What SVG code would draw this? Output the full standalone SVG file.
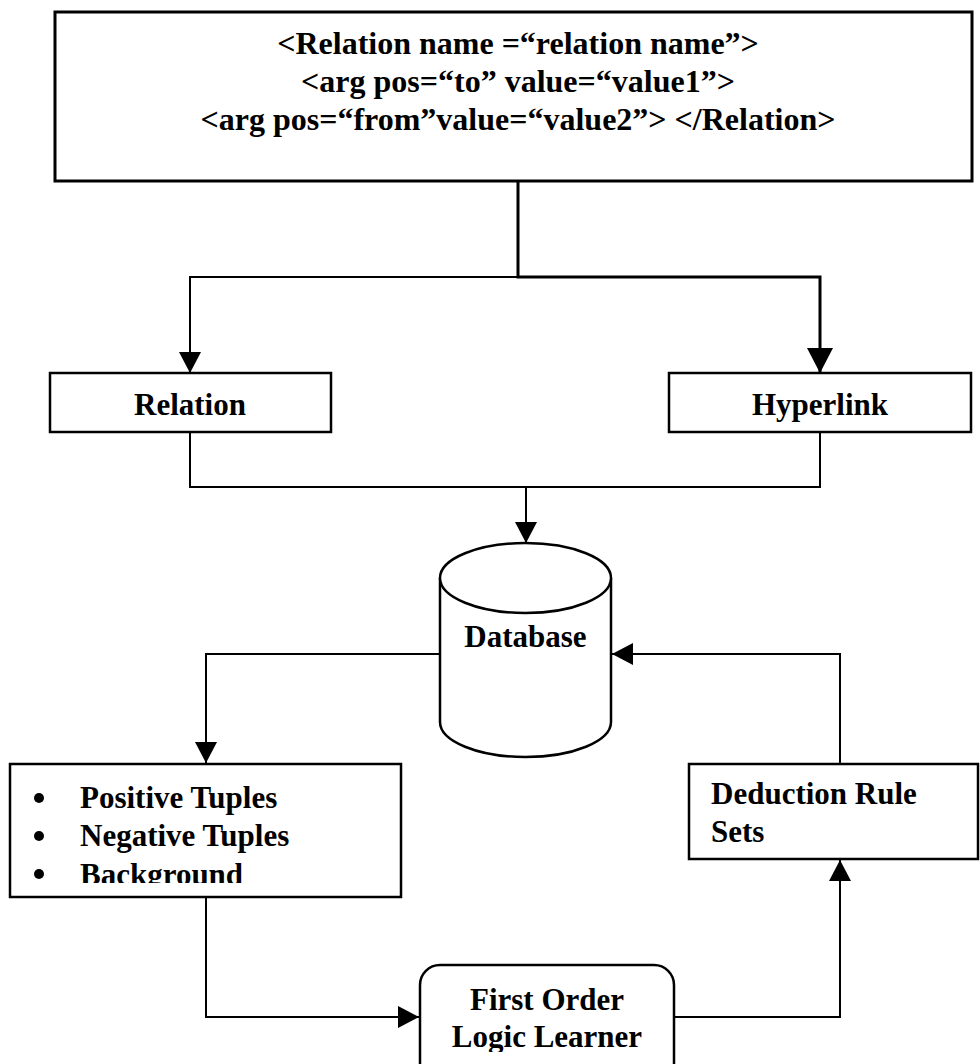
<svg xmlns="http://www.w3.org/2000/svg" width="980" height="1064" viewBox="0 0 980 1064">
<style>
.box{fill:#fff;stroke:#000;stroke-width:2.5}
.thick{fill:#fff;stroke:#000;stroke-width:3}
.ln{fill:none;stroke:#000;stroke-width:2}
.lnt{fill:none;stroke:#000;stroke-width:3}
text{font-family:"Liberation Serif","Times New Roman",serif;font-weight:bold;fill:#000;font-size:31px}
.big{font-size:32px}
.c{text-anchor:middle}
</style>
<defs>
<marker id="arr" markerUnits="userSpaceOnUse" markerWidth="22" markerHeight="22" refX="21" refY="11" orient="auto">
<path d="M0,0 L21,11 L0,22 z" fill="#000"/>
</marker>
<marker id="arrBig" markerUnits="userSpaceOnUse" markerWidth="26" markerHeight="26" refX="25" refY="13" orient="auto">
<path d="M0,0 L25,13 L0,26 z" fill="#000"/>
</marker>
<clipPath id="clipPos"><rect x="10" y="764" width="391" height="119"/></clipPath>
<clipPath id="clipFol"><rect x="420" y="965" width="254" height="87"/></clipPath>
</defs>

<g id="connectors">
<path class="lnt" d="M518,181 V277 H820 V373" marker-end="url(#arrBig)"/>
<path class="ln" d="M518,277 H190 V373" marker-end="url(#arr)"/>
<path class="ln" d="M190,432 V487 H820 V432"/>
<path class="ln" d="M526,487 V543" marker-end="url(#arr)"/>
<path class="ln" d="M440,654 H206 V763" marker-end="url(#arr)"/>
<path class="ln" d="M206,897 V1017 H419" marker-end="url(#arr)"/>
<path class="ln" d="M674,1017 H840 V860" marker-end="url(#arr)"/>
<path class="ln" d="M840,764 V654 H612" marker-end="url(#arr)"/>
</g>

<g id="xml-box">
<rect class="thick" x="55" y="12" width="917" height="169"/>
<text class="big c" x="518" y="54">&lt;Relation name =“relation name”&gt;</text>
<text class="big c" x="518" y="92">&lt;arg pos=“to” value=“value1”&gt;</text>
<text class="big c" x="518" y="130">&lt;arg pos=“from”value=“value2”&gt; &lt;/Relation&gt;</text>
</g>

<g id="relation">
<rect class="box" x="50" y="373" width="281" height="59"/>
<text class="c" x="190" y="415">Relation</text>
</g>

<g id="hyperlink">
<rect class="box" x="669" y="373" width="302" height="59"/>
<text class="c" x="820" y="415">Hyperlink</text>
</g>

<g id="database">
<path class="box" d="M440,578 V722 A85.5,35 0 0 0 611,722 V578"/>
<ellipse class="box" cx="525.5" cy="578" rx="85.5" ry="35"/>
<text class="c" x="525.5" y="647">Database</text>
</g>

<g id="tuples">
<rect class="box" x="10" y="764" width="391" height="133"/>
<g clip-path="url(#clipPos)">
<circle cx="39" cy="798" r="5"/>
<circle cx="39" cy="836" r="5"/>
<circle cx="39" cy="874" r="5"/>
<text x="80" y="808">Positive Tuples</text>
<text x="80" y="846">Negative Tuples</text>
<text x="80" y="885">Background</text>
</g>
</g>

<g id="deduction">
<rect class="box" x="689" y="764" width="289" height="95"/>
<text x="711" y="804">Deduction Rule</text>
<text x="711" y="842">Sets</text>
</g>

<g id="learner">
<rect class="box" x="420" y="965" width="254" height="120" rx="20" ry="20"/>
<g clip-path="url(#clipFol)">
<text class="c" x="547" y="1010">First Order</text>
<text class="c" x="547" y="1047">Logic Learner</text>
</g>
</g>
</svg>
